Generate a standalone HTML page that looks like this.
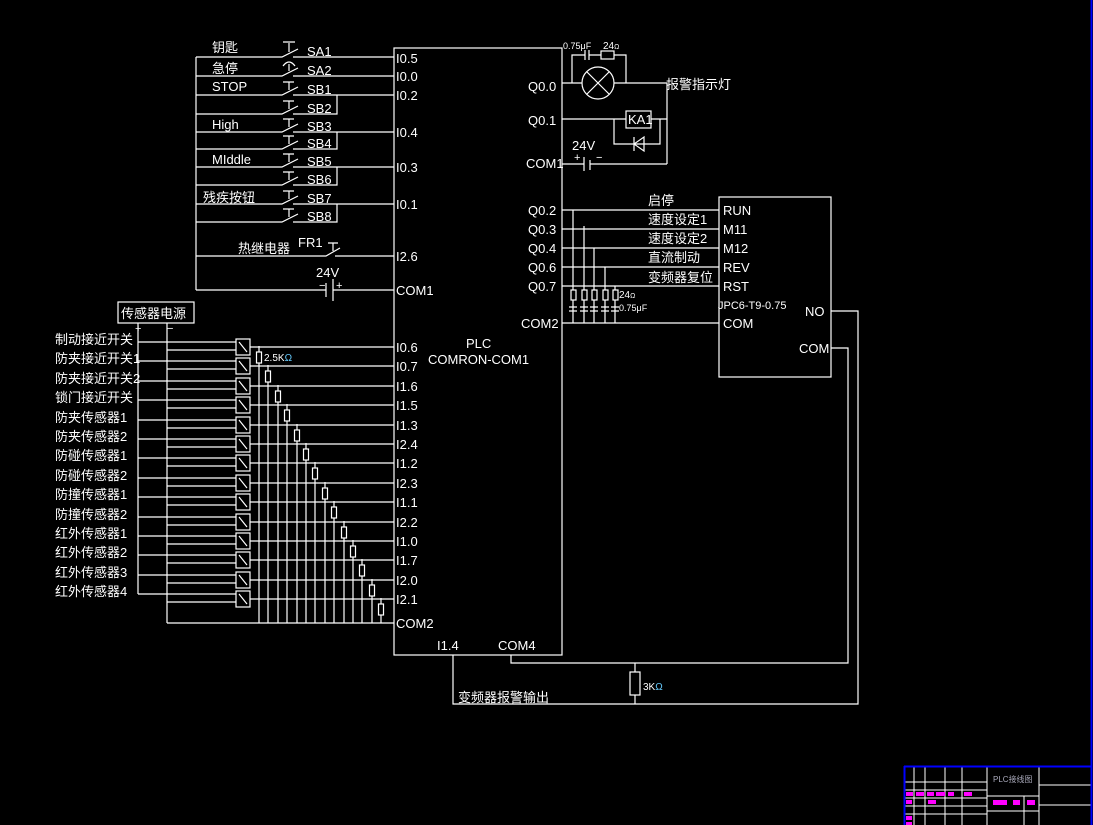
<!DOCTYPE html>
<html><head><meta charset="utf-8"><style>
html,body{margin:0;padding:0;background:#000;}
svg{display:block}
text{font-family:"Liberation Sans","Noto Sans CJK SC",sans-serif;fill:#fff;font-size:13px}
.s{font-size:9px}
</style></head><body>
<svg width="1093" height="825" viewBox="0 0 1093 825" xmlns="http://www.w3.org/2000/svg">
<rect width="1093" height="825" fill="#000"/>
<g stroke="#fff" stroke-width="1.2" fill="none">
<rect x="394" y="48" width="168" height="607"/>
<line x1="196" y1="57" x2="196" y2="290"/>
<path d="M196 57H282L298 49M293 57H394"/>
<path d="M196 76H282L298 68M293 76H394"/>
<path d="M196 95H282L298 87M293 95H394"/>
<path d="M196 114H282L298 106M293 114H337V95"/>
<path d="M196 132H282L298 124M293 132H394"/>
<path d="M196 149H282L298 141M293 149H337V132"/>
<path d="M196 167H282L298 159M293 167H394"/>
<path d="M196 185H282L298 177M293 185H337V167"/>
<path d="M196 204H282L298 196M293 204H394"/>
<path d="M196 222H282L298 214M293 222H337V204"/>
<path d="M289 52V43M283 42H295 M289 71V64M283 66Q289 58 295 66 M289 90V82M283 82H294 M289 109V101M283 101H294 M289 127V119M283 119H294 M289 144V136M283 136H294 M289 162V154M283 154H294 M289 180V172M283 172H294 M289 199V191M283 191H294 M289 217V209M283 209H294"/>
<path d="M196 256H326L340 248M335 256H394M333 251V243M328 243H338"/>
<path d="M196 290H326M326 283V297M333 279V301M333 290H394"/>
<rect x="118" y="302" width="76" height="21"/>
<line x1="138" y1="323" x2="138" y2="594"/>
<line x1="167" y1="323" x2="167" y2="623"/>
<line x1="167" y1="623" x2="394" y2="623"/>
</g>
<g stroke="#fff" stroke-width="1.2" fill="#000">
<path d="M138 342H236M167 350H236M250 347H394M259 346V623M138 361H236M167 369H236M250 366H394M268 365V623M138 381H236M167 389H236M250 386H394M278 385V623M138 400H236M167 408H236M250 405H394M287 404V623M138 420H236M167 428H236M250 425H394M297 424V623M138 439H236M167 447H236M250 444H394M306 443V623M138 458H236M167 466H236M250 463H394M315 462V623M138 478H236M167 486H236M250 483H394M325 482V623M138 497H236M167 505H236M250 502H394M334 501V623M138 517H236M167 525H236M250 522H394M344 521V623M138 536H236M167 544H236M250 541H394M353 540V623M138 555H236M167 563H236M250 560H394M362 559V623M138 575H236M167 583H236M250 580H394M372 579V623M138 594H236M167 602H236M250 599H394M381 598V623" fill="none"/>
<rect x="236" y="339" width="14" height="16"/><rect x="236" y="358" width="14" height="16"/><rect x="236" y="378" width="14" height="16"/><rect x="236" y="397" width="14" height="16"/><rect x="236" y="417" width="14" height="16"/><rect x="236" y="436" width="14" height="16"/><rect x="236" y="455" width="14" height="16"/><rect x="236" y="475" width="14" height="16"/><rect x="236" y="494" width="14" height="16"/><rect x="236" y="514" width="14" height="16"/><rect x="236" y="533" width="14" height="16"/><rect x="236" y="552" width="14" height="16"/><rect x="236" y="572" width="14" height="16"/><rect x="236" y="591" width="14" height="16"/>
<path d="M239 342L247 352M239 361L247 371M239 381L247 391M239 400L247 410M239 420L247 430M239 439L247 449M239 458L247 468M239 478L247 488M239 497L247 507M239 517L247 527M239 536L247 546M239 555L247 565M239 575L247 585M239 594L247 604" fill="none"/>
<rect x="256.5" y="352" width="5" height="11"/><rect x="265.5" y="371" width="5" height="11"/><rect x="275.5" y="391" width="5" height="11"/><rect x="284.5" y="410" width="5" height="11"/><rect x="294.5" y="430" width="5" height="11"/><rect x="303.5" y="449" width="5" height="11"/><rect x="312.5" y="468" width="5" height="11"/><rect x="322.5" y="488" width="5" height="11"/><rect x="331.5" y="507" width="5" height="11"/><rect x="341.5" y="527" width="5" height="11"/><rect x="350.5" y="546" width="5" height="11"/><rect x="359.5" y="565" width="5" height="11"/><rect x="369.5" y="585" width="5" height="11"/><rect x="378.5" y="604" width="5" height="11"/>
</g>
<g stroke="#fff" stroke-width="1.2" fill="none">
<path d="M572 83V55H585M589 55H601M614 55H626V83M562 83H582M614 83H667V164"/>
<path d="M585 50V60M589 50V60"/>
<rect x="601" y="51" width="13" height="8"/>
<circle cx="598" cy="83" r="16"/>
<path d="M587 72L609 94M609 72L587 94"/>
<path d="M562 119H626M651 119H667M614 119V144H660V119"/>
<rect x="626" y="111" width="25" height="17"/>
<path d="M634 137V151M634 144L644 137V151Z"/>
<path d="M562 164H584M584 157V171M590 160V170M590 164H667"/>
<rect x="719" y="197" width="112" height="180"/>
<path d="M562 210H719M562 229H719M562 248H719M562 267H719M562 286H719M562 323H719"/>
<path d="M573 210V323M584 226V323M594 248V323M605 267V323M615 286V323"/>
<path d="M569 307H577M569 311H577M580 307H588M580 311H588M590 307H598M590 311H598M601 307H609M601 311H609M611 307H619M611 311H619"/>
<path d="M831 311H858V704H453V655M831 348H848V663H511V655M635 663V704"/>
</g>
<g stroke="#fff" stroke-width="1.2" fill="#000">
<rect x="571" y="290" width="5" height="10"/><rect x="582" y="290" width="5" height="10"/><rect x="592" y="290" width="5" height="10"/><rect x="603" y="290" width="5" height="10"/><rect x="613" y="290" width="5" height="10"/>
<rect x="630" y="672" width="10" height="23"/>
</g>
<g stroke="#fff" stroke-width="1" fill="none">
<path d="M904 766H1091M904 766V825M987 766V825M1039 766V825M1039 785H1091M1039 805H1091M987 796H1039M904 782H987M904 790H987M904 798H987M904 806H987M904 814H987M914 766V825M925 766V825M945 766V825M962 766V825M987 811H1039M1024 796V825"/>
</g>
<path d="M904 766.5H1091M1091.5 0V825M904.5 766V825" stroke="#00f" stroke-width="2" fill="none"/>
<g fill="#f0f">
<rect x="906" y="792" width="7" height="4"/><rect x="916" y="792" width="8" height="4"/><rect x="927" y="792" width="7" height="4"/><rect x="936" y="792" width="9" height="4"/><rect x="948" y="792" width="6" height="4"/><rect x="964" y="792" width="8" height="4"/>
<rect x="906" y="800" width="6" height="4"/><rect x="928" y="800" width="8" height="4"/><rect x="906" y="816" width="6" height="4"/><rect x="906" y="822" width="6" height="3"/>
<rect x="993" y="800" width="14" height="5"/><rect x="1013" y="800" width="7" height="5"/><rect x="1027" y="800" width="8" height="5"/>
</g>
<text x="993" y="782" style="font-size:8px;fill:#aab">PLC接线图</text>
<text x="212" y="52">钥匙</text><text x="307" y="56">SA1</text>
<text x="212" y="73">急停</text><text x="307" y="75">SA2</text>
<text x="212" y="91">STOP</text><text x="307" y="94">SB1</text>
<text x="307" y="113">SB2</text>
<text x="212" y="129">High</text><text x="307" y="131">SB3</text>
<text x="307" y="148">SB4</text>
<text x="212" y="164">MIddle</text><text x="307" y="166">SB5</text>
<text x="307" y="184">SB6</text>
<text x="203" y="202">残疾按钮</text><text x="307" y="203">SB7</text>
<text x="307" y="221">SB8</text>
<text x="238" y="253">热继电器</text><text x="298" y="247">FR1</text>
<text x="316" y="277">24V</text><text x="319" y="289" style="font-size:11px">−</text><text x="336" y="289" style="font-size:11px">+</text>
<text x="396" y="63">I0.5</text><text x="396" y="81">I0.0</text><text x="396" y="100">I0.2</text>
<text x="396" y="137">I0.4</text><text x="396" y="172">I0.3</text><text x="396" y="209">I0.1</text>
<text x="396" y="261">I2.6</text><text x="396" y="295">COM1</text>
<text x="121" y="318">传感器电源</text>
<text x="135" y="332" style="font-size:11px">+</text><text x="167" y="332" style="font-size:11px">−</text>
<text x="55" y="344">制动接近开关</text><text x="55" y="363">防夹接近开关1</text><text x="55" y="383">防夹接近开关2</text><text x="55" y="402">锁门接近开关</text>
<text x="55" y="422">防夹传感器1</text><text x="55" y="441">防夹传感器2</text><text x="55" y="460">防碰传感器1</text><text x="55" y="480">防碰传感器2</text>
<text x="55" y="499">防撞传感器1</text><text x="55" y="519">防撞传感器2</text><text x="55" y="538">红外传感器1</text><text x="55" y="557">红外传感器2</text>
<text x="55" y="577">红外传感器3</text><text x="55" y="596">红外传感器4</text>
<text x="264" y="361" style="font-size:10px">2.5K<tspan fill="#6cf">Ω</tspan></text>
<text x="396" y="352">I0.6</text><text x="396" y="371">I0.7</text><text x="396" y="391">I1.6</text><text x="396" y="410">I1.5</text>
<text x="396" y="430">I1.3</text><text x="396" y="449">I2.4</text><text x="396" y="468">I1.2</text><text x="396" y="488">I2.3</text>
<text x="396" y="507">I1.1</text><text x="396" y="527">I2.2</text><text x="396" y="546">I1.0</text><text x="396" y="565">I1.7</text>
<text x="396" y="585">I2.0</text><text x="396" y="604">I2.1</text><text x="396" y="628">COM2</text>
<text x="466" y="348">PLC</text><text x="428" y="364">COMRON-COM1</text>
<text x="437" y="650">I1.4</text><text x="498" y="650">COM4</text>
<text x="458" y="702">变频器报警输出</text>
<text x="643" y="690" style="font-size:10px">3K<tspan fill="#6cf">Ω</tspan></text>
<text x="563" y="49" class="s">0.75μF</text><text x="603" y="49" style="font-size:10px">24<tspan font-size="7">Ω</tspan></text>
<text x="528" y="91">Q0.0</text><text x="528" y="125">Q0.1</text><text x="526" y="168">COM1</text>
<text x="666" y="89">报警指示灯</text>
<text x="628" y="124">KA1</text>
<text x="572" y="150">24V</text><text x="574" y="161" style="font-size:11px">+</text><text x="596" y="161" style="font-size:11px">−</text>
<text x="528" y="215">Q0.2</text><text x="528" y="234">Q0.3</text><text x="528" y="253">Q0.4</text><text x="528" y="272">Q0.6</text><text x="528" y="291">Q0.7</text>
<text x="521" y="328">COM2</text>
<text x="648" y="205">启停</text><text x="648" y="224">速度设定1</text><text x="648" y="243">速度设定2</text><text x="648" y="262">直流制动</text><text x="648" y="282">变频器复位</text>
<text x="619" y="298" style="font-size:10px">24<tspan font-size="7">Ω</tspan></text><text x="619" y="311" class="s">0.75μF</text>
<text x="723" y="215">RUN</text><text x="723" y="234">M11</text><text x="723" y="253">M12</text><text x="723" y="272">REV</text><text x="723" y="291">RST</text>
<text x="718" y="309" style="font-size:11px">JPC6-T9-0.75</text><text x="805" y="316">NO</text>
<text x="723" y="328">COM</text><text x="799" y="353">COM</text>
</svg>
</body></html>
